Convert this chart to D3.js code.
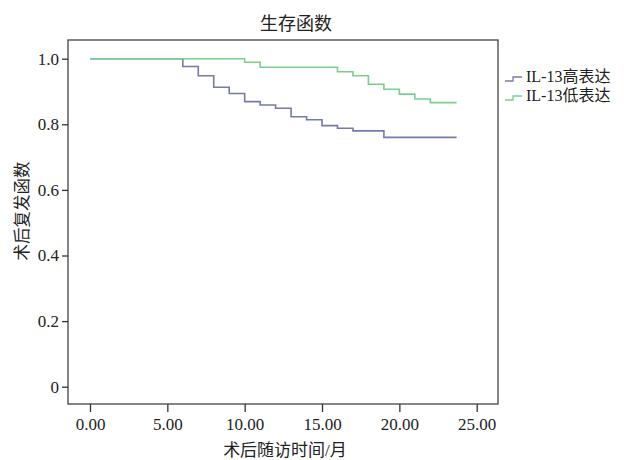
<!DOCTYPE html>
<html>
<head>
<meta charset="utf-8">
<script src="https://cdn.jsdelivr.net/npm/d3@7"></script>
<style>
  body { margin: 0; background: #fff; }
  svg text { font-family: "Liberation Serif", "Noto Sans CJK SC", serif; fill: #222; }
</style>
</head>
<body>
<div id="chart"></div>
<script>
// step times (months) and survival after each step
var highTimes = [0, 6, 7, 8, 9, 10, 11, 12, 13, 14, 15, 16, 17, 19, 23.7];
var highSurv  = [1.0, 0.976, 0.948, 0.913, 0.894, 0.869, 0.859, 0.849, 0.823, 0.814, 0.796, 0.788, 0.780, 0.760, 0.760];
var lowTimes  = [0, 10, 11, 16, 17, 18, 19, 20, 21, 22, 23.7];
var lowSurv   = [1.0, 0.989, 0.974, 0.960, 0.948, 0.922, 0.907, 0.892, 0.877, 0.866, 0.866];

var xTicks = [0, 5, 10, 15, 20, 25];
var yTicks = [0, 0.2, 0.4, 0.6, 0.8, 1.0];
var seriesNames = ['IL-13高表达', 'IL-13低表达'];
var seriesColors = ['#7579ad', '#78cf8e'];

var W = 626, H = 460;
var frame = { left: 68, top: 40, right: 498, bottom: 404 };

var svg = d3.select('#chart').append('svg')
  .attr('width', W).attr('height', H);

var x = d3.scaleLinear().domain([0, 25]).range([90, 476.7]);
var y = d3.scaleLinear().domain([0, 1]).range([386.7, 58.7]);

// frame
svg.append('rect')
  .attr('x', frame.left).attr('y', frame.top)
  .attr('width', frame.right - frame.left).attr('height', frame.bottom - frame.top)
  .attr('fill', 'none').attr('stroke', '#444').attr('stroke-width', 1.3);

// y axis ticks on left edge of frame
var yAxis = d3.axisLeft(y).tickValues(yTicks).tickSize(6).tickPadding(3)
  .tickFormat(function(d) { return d === 0 ? '0' : d3.format('.1f')(d); });
var gy = svg.append('g').attr('transform', 'translate(' + frame.left + ',0)').call(yAxis);
gy.select('.domain').remove();
gy.selectAll('line').attr('stroke', '#333').attr('stroke-width', 1.3);
gy.selectAll('text').attr('font-size', 17).attr('fill', '#222');

// x axis ticks below frame
var xAxis = d3.axisBottom(x).tickValues(xTicks).tickSize(8).tickPadding(6)
  .tickFormat(d3.format('.2f'));
var gx = svg.append('g').attr('transform', 'translate(0,' + frame.bottom + ')').call(xAxis);
gx.select('.domain').remove();
gx.selectAll('line').attr('stroke', '#333').attr('stroke-width', 1.3);
gx.selectAll('text').attr('font-size', 17).attr('fill', '#222');

// step lines
var line = d3.line()
  .x(function(d) { return x(d[0]); })
  .y(function(d) { return y(d[1]); })
  .curve(d3.curveStepAfter);

[[highTimes, highSurv], [lowTimes, lowSurv]].forEach(function(s, i) {
  var pts = s[0].map(function(t, j) { return [t, s[1][j]]; });
  svg.append('path').datum(pts)
    .attr('d', line)
    .attr('fill', 'none')
    .attr('stroke', seriesColors[i])
    .attr('stroke-width', 1.6);
});

// title and axis titles
svg.append('text').attr('x', 296).attr('y', 30)
  .attr('text-anchor', 'middle').attr('font-size', 18).text('生存函数');
svg.append('text').attr('x', 285).attr('y', 456)
  .attr('text-anchor', 'middle').attr('font-size', 17).text('术后随访时间/月');
svg.append('text')
  .attr('transform', 'translate(28,211) rotate(-90)')
  .attr('text-anchor', 'middle').attr('font-size', 16.5).text('术后复发函数');

// legend
var legend = svg.append('g');
seriesNames.forEach(function(name, i) {
  var ly = 81 + i * 19;
  legend.append('path')
    .attr('d', 'M505,' + ly + 'H513V' + (ly - 4) + 'H522')
    .attr('fill', 'none').attr('stroke', seriesColors[i]).attr('stroke-width', 1.3);
  legend.append('text').attr('x', 526).attr('y', ly + 1)
    .attr('font-size', 16).text(name);
});
</script>
</body>
</html>
